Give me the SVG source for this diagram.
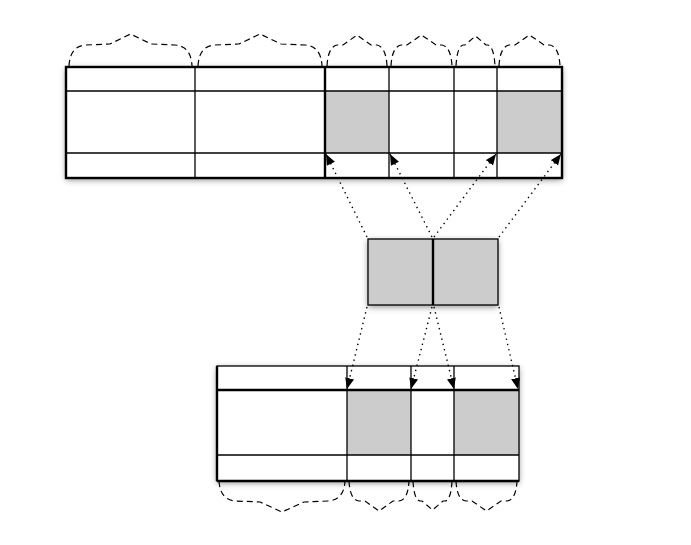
<svg xmlns="http://www.w3.org/2000/svg" width="691" height="545" viewBox="0 0 691 545">
<style>
.thin{stroke:#000;stroke-width:1.3;fill:none}
.thick{stroke:#000;stroke-width:2.4;fill:none}
.gray{fill:#cccccc;stroke:none}
.brace{stroke:#000;stroke-width:1.2;fill:none;stroke-dasharray:6,4}
.dot{stroke:#000;stroke-width:1.4;fill:none;stroke-dasharray:1.4,4}
</style>
<defs>
<filter id="sh" x="-10%" y="-20%" width="120%" height="150%">
<feDropShadow dx="0" dy="2" stdDeviation="3" flood-color="#000" flood-opacity="0.45"/>
</filter>
<marker id="ah" markerUnits="userSpaceOnUse" markerWidth="12" markerHeight="10" refX="11" refY="4.5" orient="auto">
<path d="M0,0 L11,4.5 L0,9 z" fill="#000"/>
</marker>
</defs>
<rect width="691" height="545" fill="#fff"/>

<g id="top-table">
<rect x="66" y="67" width="496" height="111" fill="#fff" filter="url(#sh)"/>
<rect class="gray" x="325" y="91" width="64" height="62"/>
<rect class="gray" x="497" y="91" width="65" height="62"/>
<line class="thin" x1="66" y1="91" x2="562" y2="91"/>
<line class="thin" x1="66" y1="153" x2="562" y2="153"/>
<line class="thin" x1="195" y1="67" x2="195" y2="178"/>
<line class="thick" x1="325" y1="67" x2="325" y2="178"/>
<line class="thin" x1="389" y1="67" x2="389" y2="178"/>
<line class="thin" x1="454" y1="67" x2="454" y2="178"/>
<line class="thin" x1="497" y1="67" x2="497" y2="178"/>
<rect class="thick" x="66" y="67" width="496" height="111"/>
</g>

<g id="middle-box">
<rect x="368" y="239" width="130" height="66" fill="#cccccc" filter="url(#sh)"/>
<rect class="thin" x="368" y="239" width="130" height="66" stroke-width="1.6"/>
<line class="thick" x1="433" y1="239" x2="433" y2="305"/>
</g>

<g id="bottom-table">
<rect x="217" y="366" width="302" height="115" fill="#fff" filter="url(#sh)"/>
<rect class="gray" x="347" y="390" width="64" height="65"/>
<rect class="gray" x="454" y="390" width="65" height="65"/>
<line class="thick" x1="217" y1="390" x2="519" y2="390"/>
<line class="thin" x1="217" y1="455" x2="519" y2="455"/>
<line class="thin" x1="347" y1="366" x2="347" y2="481"/>
<line class="thin" x1="411" y1="366" x2="411" y2="481"/>
<line class="thin" x1="454" y1="366" x2="454" y2="481"/>
<rect class="thin" x="217" y="366" width="302" height="115"/>
<line class="thick" x1="217" y1="366" x2="217" y2="481"/>
<line class="thick" x1="217" y1="481" x2="519" y2="481"/>
</g>

<g id="braces">
<path class="brace" d="M69,66 Q70,46 86,45 L110,44 L130.5,34 L151,44 L175,45 Q191,46 192,66"/>
<path class="brace" d="M198,66 Q199,46 215,45 L239,44 L260,34 L281,44 L305,45 Q321,46 322,66"/>
<path class="brace" d="M327,66 Q328,47 337,45 L343,45 L357,35 L371,45 L377,45 Q386,47 387,66"/>
<path class="brace" d="M391,66 Q392,47 401,45 L407,45 L421.5,35 L436,45 L442,45 Q451,47 452,66"/>
<path class="brace" d="M456,66 Q457,47 463,45 L465,45 L475.5,36 L486,45 L488,45 Q494,47 495,66"/>
<path class="brace" d="M499,66 Q500,47 509,45 L515,45 L529.5,35 L544,45 L550,45 Q559,47 560,66"/>
<path class="brace" d="M219,481 Q220,500 236,501 L260,502 L282,512 L304,502 L328,501 Q344,500 345,481"/>
<path class="brace" d="M349,481 Q350,500 359,501 L365,501 L379,511 L393,501 L399,501 Q408,500 409,481"/>
<path class="brace" d="M413,481 Q414,500 420,501 L422,501 L432.5,510 L443,501 L445,501 Q451,500 452,481"/>
<path class="brace" d="M456,481 Q457,500 466,501 L472,501 L486.5,511 L501,501 L507,501 Q516,500 517,481"/>
</g>

<g id="connectors">
<line class="dot" x1="367" y1="237" x2="326" y2="154" marker-end="url(#ah)"/>
<line class="dot" x1="432" y1="237" x2="390" y2="154" marker-end="url(#ah)"/>
<line class="dot" x1="434" y1="237" x2="496" y2="154" marker-end="url(#ah)"/>
<line class="dot" x1="499" y1="237" x2="561" y2="154" marker-end="url(#ah)"/>
<line class="dot" x1="367" y1="307" x2="347" y2="389" marker-end="url(#ah)"/>
<line class="dot" x1="432" y1="307" x2="411" y2="389" marker-end="url(#ah)"/>
<line class="dot" x1="434" y1="307" x2="454" y2="389" marker-end="url(#ah)"/>
<line class="dot" x1="499" y1="307" x2="518" y2="389" marker-end="url(#ah)"/>
</g>
</svg>
